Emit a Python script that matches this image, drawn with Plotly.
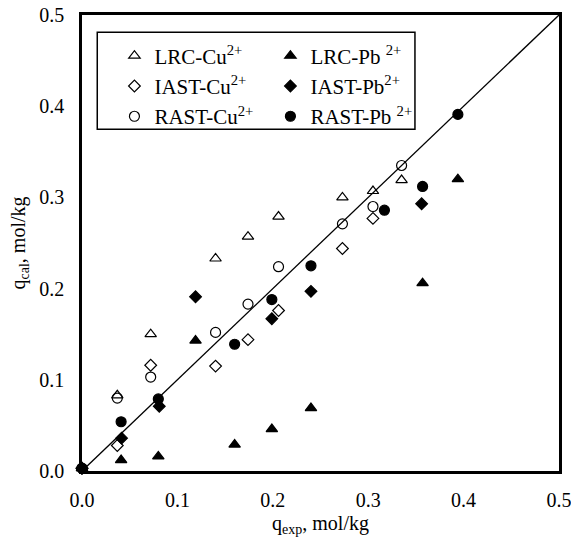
import plotly.graph_objects as go

# ---- data ----
lrc_cu_x = [0.0, 0.037, 0.072, 0.140, 0.174, 0.206, 0.273, 0.305, 0.335]
lrc_cu_y = [0.003, 0.083, 0.150, 0.233, 0.257, 0.279, 0.300, 0.307, 0.319]

lrc_pb_x = [0.0, 0.041, 0.080, 0.119, 0.160, 0.199, 0.240, 0.357, 0.394]
lrc_pb_y = [0.003, 0.012, 0.016, 0.143, 0.029, 0.046, 0.069, 0.206, 0.320]

iast_cu_x = [0.0, 0.037, 0.072, 0.140, 0.174, 0.206, 0.273, 0.305]
iast_cu_y = [0.003, 0.028, 0.116, 0.115, 0.144, 0.176, 0.244, 0.277]

iast_pb_x = [0.0, 0.0415, 0.081, 0.119, 0.199, 0.240, 0.356]
iast_pb_y = [0.003, 0.036, 0.071, 0.191, 0.167, 0.197, 0.293]

rast_cu_x = [0.0, 0.037, 0.072, 0.140, 0.174, 0.206, 0.273, 0.305, 0.335]
rast_cu_y = [0.003, 0.080, 0.103, 0.152, 0.183, 0.224, 0.271, 0.290, 0.335]

rast_pb_x = [0.0, 0.041, 0.080, 0.160, 0.199, 0.240, 0.317, 0.357, 0.394]
rast_pb_y = [0.003, 0.054, 0.079, 0.139, 0.188, 0.225, 0.286, 0.312, 0.391]

diag = [0.0, 0.503]
ticks = [0.0, 0.1, 0.2, 0.3, 0.4, 0.5]

FONT = "Liberation Serif"

fig = go.Figure()

fig.add_trace(go.Scatter(x=diag, y=diag, mode="lines",
                         line=dict(color="black", width=1.3),
                         showlegend=False, hoverinfo="skip", cliponaxis=False))

def add(name, xs, ys, symbol, size, legend):
    fig.add_trace(go.Scatter(
        x=xs, y=ys, mode="markers", name=name, legend=legend,
        marker=dict(symbol=symbol, size=size, color="black",
                    line=dict(color="black", width=1.2)),
        cliponaxis=False))

add("LRC-Cu<sup>2+</sup>", lrc_cu_x, lrc_cu_y, "triangle-up-open", 10, "legend")
add("IAST-Cu<sup>2+</sup>", iast_cu_x, iast_cu_y, "diamond-open", 9, "legend")
add("RAST-Cu<sup>2+</sup>", rast_cu_x, rast_cu_y, "circle-open", 10, "legend")
add("LRC-Pb <sup>2+</sup>", lrc_pb_x, lrc_pb_y, "triangle-up", 10, "legend2")
add("IAST-Pb<sup>2+</sup>", iast_pb_x, iast_pb_y, "diamond", 9, "legend2")
add("RAST-Pb <sup>2+</sup>", rast_pb_x, rast_pb_y, "circle", 10, "legend2")

legend_common = dict(font=dict(family=FONT, size=21, color="black"),
                     bgcolor="rgba(0,0,0,0)", borderwidth=0,
                     xanchor="left", yanchor="top", tracegroupgap=0,
                     itemwidth=30)

fig.update_layout(
    width=571, height=541,
    margin=dict(l=82, r=12, t=15, b=70, autoexpand=False),
    plot_bgcolor="white", paper_bgcolor="white",
    font=dict(family=FONT, size=20, color="black"),
    legend=dict(x=0.068, y=0.955, **legend_common),
    legend2=dict(x=0.395, y=0.955, **legend_common),
    xaxis=dict(range=[0, 0.5], tickvals=ticks, tickformat=".1f",
               automargin=False, ticklabeloverflow="allow",
               ticklabelstandoff=9,
               showgrid=False, zeroline=False, showline=True, mirror=True,
               linecolor="black", linewidth=2.5, ticks="",
               tickfont=dict(family=FONT, size=20),
               title=dict(text="q<sub>exp</sub>, mol/kg",
                          font=dict(family=FONT, size=20), standoff=7)),
    yaxis=dict(range=[0, 0.5], tickvals=ticks, tickformat=".1f",
               automargin=False, ticklabeloverflow="allow",
               showgrid=False, zeroline=False, showline=True, mirror=True,
               linecolor="black", linewidth=2.5, ticks="",
               ticklabelstandoff=11,
               tickfont=dict(family=FONT, size=20),
               title=dict(text="q<sub>cal</sub>, mol/kg",
                          font=dict(family=FONT, size=20), standoff=9)),
    shapes=[dict(type="rect", xref="x", yref="y",
                 x0=0.016, x1=0.349, y0=0.3747, y1=0.481,
                 line=dict(color="black", width=1.5), layer="above")],
)

fig.write_html("out.html", config={"displayModeBar": False},
               post_script="document.body.style.margin='0';document.body.style.overflow='hidden';")
